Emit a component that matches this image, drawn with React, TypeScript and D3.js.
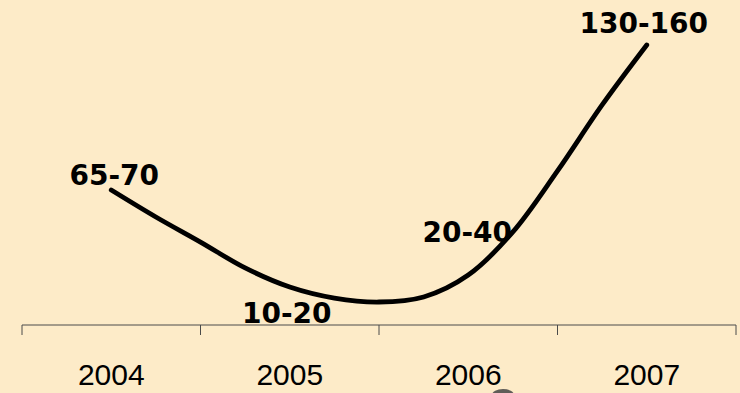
import React from "react";
import * as d3 from "d3";

const years = ["2004", "2005", "2006", "2007"];
const rangeLabels = ["65-70", "10-20", "20-40", "130-160"];
// quarterly-positioned curve samples (year offset, value)
const curveT = [0, 0.25, 0.5, 0.75, 1, 1.25, 1.5, 1.75, 2, 2.25, 2.5, 2.75, 3];
const curveV = [67.8, 53.4, 40.0, 26.2, 16.0, 10.1, 8.0, 10.7, 22.4, 45.4, 78.0, 113.2, 145.2];

const W = 740;
const H = 393;

export default function App() {
  const band = d3.scaleBand<string>().domain(years).range([22, 736]).padding(0);
  const step = band.step();
  const cx = (t: number) => (band(years[0]) as number) + step / 2 + t * step;
  const y = d3.scaleLinear().domain([0, 150]).range([317, 36]);
  const pts: [number, number][] = curveT.map((t, i) => [cx(t), y(curveV[i])]);
  const line = d3.line().curve(d3.curveCatmullRom.alpha(0.5))(pts) as string;
  const edges = years.map((yr) => band(yr) as number).concat([band.range()[1]]);
  const labelX = [3, -3, -1, -3];
  return (
    <svg width={W} height={H} style={{ position: "absolute", left: 0, top: 0 }}>
      <rect x={0} y={0} width={W} height={H} fill="#FDEBC8" />
      <line x1={22} x2={736} y1={325} y2={325} stroke="#4a4a4a" strokeWidth={1} />
      {edges.map((e, i) => (
        <line key={i} x1={e} x2={e} y1={325} y2={335} stroke="#4a4a4a" strokeWidth={1} />
      ))}
      <path d={line} fill="none" stroke="#000" strokeWidth={4.8} strokeLinejoin="round" strokeLinecap="round" />
      {years.map((yr, i) => (
        <text
          key={yr}
          x={cx(i)}
          y={385}
          textAnchor="middle"
          fontFamily="Liberation Sans, Arial, sans-serif"
          fontSize={30}
          fill="#000"
        >
          {yr}
        </text>
      ))}
      {rangeLabels.map((lab, i) => (
        <text
          key={lab}
          x={cx(i) + labelX[i]}
          y={[185, 323, 242, 33][i]}
          textAnchor="middle"
          fontFamily="DejaVu Sans, Verdana, sans-serif"
          fontWeight="bold"
          fontSize={28}
          fill="#000"
        >
          {lab}
        </text>
      ))}
      <ellipse cx={503} cy={395} rx={11} ry={6} fill="#444" opacity={0.85} />
    </svg>
  );
}
